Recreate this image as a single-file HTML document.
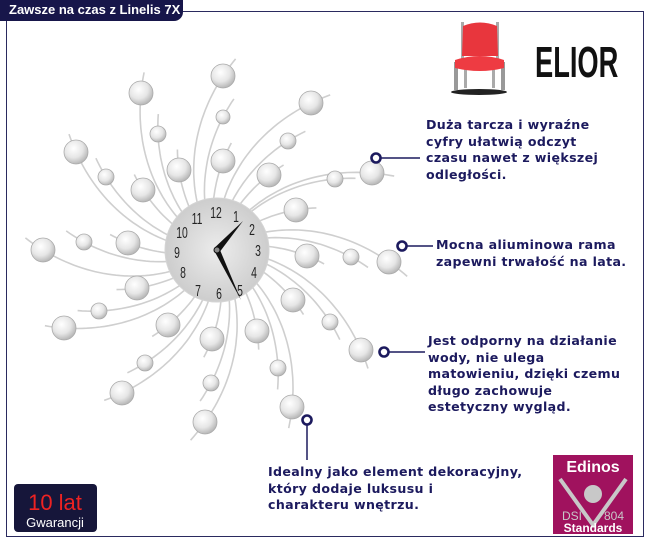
<!DOCTYPE html>
<html><head><meta charset="utf-8"><style>
html,body{margin:0;padding:0;background:#fff;}
#w{position:relative;width:650px;height:550px;overflow:hidden;font-family:"DejaVu Sans","Liberation Sans",sans-serif;}
.frame{position:absolute;left:6px;top:11px;width:636px;height:524px;border:1.5px solid #2a2a5e;}
.tab{position:absolute;left:0;top:0;width:183px;height:21px;background:#17164a;border-bottom-right-radius:9px;color:#fff;font-weight:bold;font-size:13px;line-height:20px;padding-left:9px;box-sizing:border-box;font-family:"Liberation Sans",sans-serif;}
.t{position:absolute;color:#1c1a5e;font-weight:bold;font-size:12.6px;line-height:16.5px;letter-spacing:0.35px;white-space:nowrap;}
svg{position:absolute;left:0;top:0;}
</style></head><body><div id="w">
<div class="frame"></div>
<div class="tab">Zawsze na czas z Linelis 7X</div>
<svg id="s" width="650" height="550">
<defs>
<radialGradient id="b" cx="40%" cy="35%" r="65%"><stop offset="0" stop-color="#fff"/><stop offset="0.6" stop-color="#e6e6e6"/><stop offset="1" stop-color="#b8b8b8"/></radialGradient>
<radialGradient id="d" cx="50%" cy="50%" r="50%"><stop offset="0" stop-color="#ececec"/><stop offset="1" stop-color="#cdcdcd"/></radialGradient>
</defs>
<g id="sp" fill="none" stroke="#cfcfcf" stroke-width="1.6"></g>
<g id="bl"></g>
<circle cx="217" cy="250" r="52" fill="url(#d)" stroke="#d4d4d4"/>
<g font-family="'Liberation Sans',sans-serif" font-size="16" fill="#222" text-anchor="middle">
<text transform="translate(216,218) scale(0.65,1)">12</text>
<text transform="translate(236,222) scale(0.65,1)">1</text>
<text transform="translate(197,224) scale(0.65,1)">11</text>
<text transform="translate(182,238) scale(0.65,1)">10</text>
<text transform="translate(252,235) scale(0.65,1)">2</text>
<text transform="translate(258,256) scale(0.65,1)">3</text>
<text transform="translate(254,278) scale(0.65,1)">4</text>
<text transform="translate(240,296) scale(0.65,1)">5</text>
<text transform="translate(219,299) scale(0.65,1)">6</text>
<text transform="translate(198,296) scale(0.65,1)">7</text>
<text transform="translate(183,278) scale(0.65,1)">8</text>
<text transform="translate(177,258) scale(0.65,1)">9</text>
</g>
<polygon points="214.5,247.8 219.5,252.2 243,221" fill="#111"/>
<polygon points="219.5,248.8 214.5,251.2 241,300" fill="#111"/>
<circle cx="217" cy="250" r="3" fill="#888" stroke="#111"/>
<g stroke="#1c1a5e" stroke-width="1.5" fill="none">
<line x1="380" y1="158" x2="420" y2="158"/>
<line x1="406" y1="246" x2="433" y2="246"/>
<line x1="388" y1="352" x2="425" y2="352"/>
<line x1="307" y1="424" x2="307" y2="460"/>
</g>
<g stroke="#1c1a5e" stroke-width="2.6" fill="#fff">
<circle cx="376" cy="158" r="4.5"/><circle cx="402" cy="246" r="4.5"/><circle cx="384" cy="352" r="4.5"/><circle cx="307" cy="420" r="4.5"/>
</g>
<!-- chair -->
<g>
<ellipse cx="479" cy="92" rx="28" ry="3" fill="#222"/>
<rect x="454" y="62" width="4" height="28" fill="#999"/><rect x="501" y="62" width="4" height="28" fill="#999"/>
<rect x="464" y="66" width="3" height="22" fill="#aaa"/><rect x="492" y="66" width="3" height="22" fill="#aaa"/>
<rect x="461" y="22" width="3" height="40" fill="#aaa"/><rect x="496" y="22" width="3" height="40" fill="#aaa"/>
<path d="M463 26 Q480 19 497 26 L498 56 L462 56 Z" fill="#e8363d"/>
<path d="M455 60 Q480 52 504 60 L504 68 Q480 74 455 68 Z" fill="#ee3b42"/>
</g>
<text transform="translate(535,77) scale(0.62,1)" font-family="'Liberation Sans',sans-serif" font-weight="bold" font-size="44" fill="#111">ELIOR</text>
<!-- 10 lat -->
<rect x="14" y="484" width="83" height="48" rx="4" fill="#16163a"/>
<text x="55" y="510" text-anchor="middle" font-family="'Liberation Sans',sans-serif" font-size="22" fill="#e22">10 lat</text>
<text x="55" y="527" text-anchor="middle" font-family="'Liberation Sans',sans-serif" font-size="13" fill="#fff">Gwarancji</text>
<!-- Edinos -->
<rect x="553" y="455" width="80" height="79" fill="#a0125e"/>
<text x="593" y="472" text-anchor="middle" font-family="'Liberation Sans',sans-serif" font-weight="bold" font-size="16" fill="#fff">Edinos</text>
<path d="M560 479 L593 525 L626 479" stroke="#c8c8c8" stroke-width="4" fill="none"/>
<circle cx="593" cy="494" r="9" fill="#c8c8c8"/>
<text x="562" y="520" font-family="'Liberation Sans',sans-serif" font-size="12" fill="#c8c8c8">DSI</text>
<text x="604" y="520" font-family="'Liberation Sans',sans-serif" font-size="12" fill="#c8c8c8">804</text>
<text x="593" y="532" text-anchor="middle" font-family="'Liberation Sans',sans-serif" font-weight="bold" font-size="12" fill="#fff">Standards</text>
</svg>
<div class="t" style="left:426px;top:117px">Duża tarcza i wyraźne<br>cyfry ułatwią odczyt<br>czasu nawet z większej<br>odległości.</div>
<div class="t" style="left:436px;top:237px">Mocna aliuminowa rama<br>zapewni trwałość na lata.</div>
<div class="t" style="left:428px;top:333px">Jest odporny na działanie<br>wody, nie ulega<br>matowieniu, dzięki czemu<br>długo zachowuje<br>estetyczny wygląd.</div>
<div class="t" style="left:268px;top:464px">Idealny jako element dekoracyjny,<br>który dodaje luksusu i<br>charakteru wnętrzu.</div>
<script>
var B=[[223,76,12],[141,93,12],[311,103,12],[223,117,7],[158,134,8],[76,152,12],[288,141,8],[223,161,12],[179,170,12],[106,177,8],[269,175,12],[372,173,12],[335,179,8],[143,190,12],[296,210,12],[43,250,12],[84,242,8],[128,243,12],[307,256,12],[351,257,8],[389,262,12],[137,288,12],[99,311,8],[293,300,12],[330,322,8],[64,328,12],[168,325,12],[257,331,12],[212,339,12],[361,350,12],[145,363,8],[278,368,8],[211,383,8],[122,393,12],[292,407,12],[205,422,12]];
var cx=217,cy=250,k=0.0035,sp=document.getElementById('sp'),bl=document.getElementById('bl'),ns='http://www.w3.org/2000/svg';
B.forEach(function(b){var dx=b[0]-cx,dy=b[1]-cy,rb=Math.hypot(dx,dy),tb=Math.atan2(dy,dx),pts=[];
for(var r=52;r<=rb+20;r+=4){var t=tb+k*(r-rb);pts.push((cx+r*Math.cos(t)).toFixed(1)+','+(cy+r*Math.sin(t)).toFixed(1));}
var p=document.createElementNS(ns,'polyline');p.setAttribute('points',pts.join(' '));sp.appendChild(p);
var c=document.createElementNS(ns,'circle');c.setAttribute('cx',b[0]);c.setAttribute('cy',b[1]);c.setAttribute('r',b[2]);c.setAttribute('fill','url(#b)');c.setAttribute('stroke','#aaa');c.setAttribute('stroke-width','0.8');bl.appendChild(c);});
</script>
</div></body></html>
